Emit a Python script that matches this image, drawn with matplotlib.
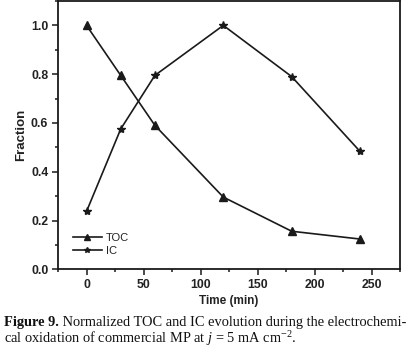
import matplotlib
matplotlib.use("Agg")
import matplotlib.pyplot as plt
from matplotlib.ticker import MultipleLocator, FormatStrFormatter

time_min = [0, 30, 60, 120, 180, 240]
toc = [1.0, 0.795, 0.59, 0.296, 0.156, 0.124]
ic = [0.237, 0.575, 0.795, 1.0, 0.79, 0.483]
series_labels = ["TOC", "IC"]

plt.rcParams['mathtext.fontset'] = 'custom'
plt.rcParams['mathtext.rm'] = 'Liberation Serif'
plt.rcParams['mathtext.it'] = 'Liberation Serif:italic'

fig = plt.figure(figsize=(4.2, 3.54), dpi=100)
W, H = 420, 354
ax = fig.add_axes([58 / W, 1 - 269.3 / H, (400 - 58) / W, (269.3 - 1) / H])

ax.plot(time_min, toc, color='#1a1a1a', lw=1.2, marker='^', ms=6, label=series_labels[0])
ax.plot(time_min, ic, color='#1a1a1a', lw=1.2, marker='*', ms=6, label=series_labels[1])

ax.set_xlim(-25, 275)
ax.set_ylim(0, 1.1)
ax.xaxis.set_major_locator(MultipleLocator(50))
ax.xaxis.set_minor_locator(MultipleLocator(25))
ax.yaxis.set_major_locator(MultipleLocator(0.2))
ax.yaxis.set_minor_locator(MultipleLocator(0.1))
ax.yaxis.set_major_formatter(FormatStrFormatter('%.1f'))

for sp in ax.spines.values():
    sp.set_linewidth(1.3)
    sp.set_color('#1a1a1a')
ax.tick_params(which='both', direction='out', width=1.1, colors='#1a1a1a')
ax.tick_params(which='major', length=4, pad=3)
ax.tick_params(which='minor', length=2.5)
for lab in ax.get_xticklabels() + ax.get_yticklabels():
    lab.set_family('Liberation Sans')
    lab.set_fontweight('bold')
    lab.set_fontsize(8.8)
    lab.set_color('#222222')

ax.set_xlabel('Time (min)', family='Liberation Sans', fontweight='bold', fontsize=8.5, color='#222222', labelpad=3)
ax.set_ylabel('Fraction', family='Liberation Sans', fontweight='bold', fontsize=9.5, color='#222222', labelpad=3)

leg = ax.legend(loc='center left', bbox_to_anchor=(0.02, 0.093), frameon=False,
                prop={'family': 'Liberation Sans', 'size': 8}, handlelength=2.6,
                handletextpad=0.4, labelspacing=0.25, borderaxespad=0.3, markerscale=0.7)
for t in leg.get_texts():
    t.set_color('#222222')

cap_kw = dict(family='Liberation Serif', fontsize=10.4, color='#111111', va='baseline', ha='left')
x0 = 4 / W
y1 = 1 - 326 / H
t1 = fig.text(x0, y1, 'Figure 9.', fontweight='bold', **cap_kw)
fig.canvas.draw()
bb = t1.get_window_extent(renderer=fig.canvas.get_renderer())
x1 = bb.x1 / fig.bbox.width
fig.text(x1, y1, ' Normalized TOC and IC evolution during the electrochemi-', **cap_kw)
fig.text(x0, 1 - 343 / H, r'cal oxidation of commercial MP at $j$ = 5 mA cm$^{-2}$.', **cap_kw)

fig.savefig('out.png', dpi=100)
